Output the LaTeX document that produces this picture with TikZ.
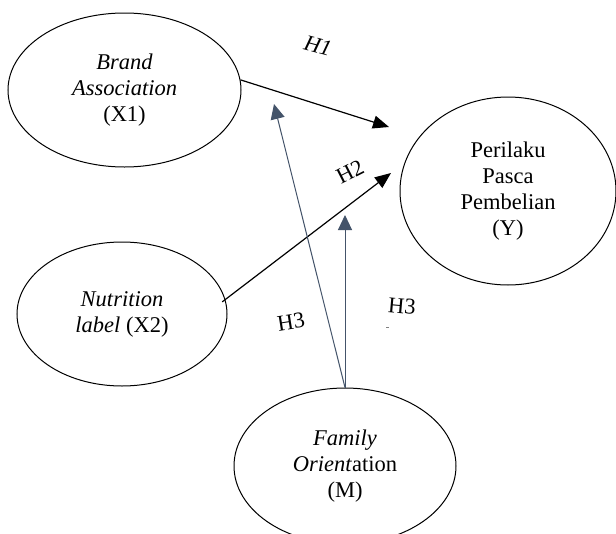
\documentclass[tikz,border=0pt]{standalone}
\usepackage{fontspec}
\setmainfont{Liberation Serif}
\usetikzlibrary{arrows.meta,shapes.geometric}
\definecolor{bluegray}{HTML}{44546A}
\begin{document}
\begin{tikzpicture}[x=1pt,y=-1pt,
 latent/.style={draw=black, line width=1pt, ellipse, inner sep=0pt, align=center, font=\fontsize{22.5}{26}\selectfont},
 blackarrow/.style={draw=black, line width=1.2pt, -{Triangle[length=16pt,width=13pt]}},
 bluearrow/.style={draw=bluegray, line width=1pt, -{Triangle[length=15pt,width=14pt]}},
 hlabel/.style={font=\fontsize{22.5}{26}\selectfont, inner sep=0pt}]
\useasboundingbox (0,0) rectangle (616,533);
\fill[white] (0,0) rectangle (616,533);
% latent variables
\node[latent, minimum width=233pt, minimum height=154pt] (x1) at (124.5,90) {\textit{Brand}\\\textit{Association}\\(X1)};
\node[latent, minimum width=210pt, minimum height=144pt] (x2) at (122,314) {\textit{Nutrition}\\\textit{label} (X2)};
\node[latent, minimum width=216pt, minimum height=188pt] (y) at (508,191) {Perilaku\\Pasca\\Pembelian\\(Y)};
\node[latent, minimum width=222pt, minimum height=156pt] (m) at (345,466) {\textit{Family}\\\textit{Orient}ation\\(M)};
% free ends of connectors
\coordinate (h1e) at (389,127);
\coordinate (h2e) at (391,173);
\coordinate (h3ae) at (274,104);
\coordinate (h3be) at (345,215);
% connectors
\draw[blackarrow] (x1.5) -- (h1e);
\draw[blackarrow, shorten <=-4pt] (x2.8) -- (h2e);
\draw[bluearrow] (m.north) -- (h3ae);
\draw[bluearrow] (m.north) -- (h3be);
% labels
\node[hlabel, rotate=-15] (lh1) at (318,46) {\textit{H1}};
\node[hlabel, rotate=27] (lh2) at (350,172) {H2};
\node[hlabel, rotate=9] (lh3a) at (291,322) {H3};
\node[hlabel, rotate=-5] (lh3b) at (402,306) {H3};
\draw[gray, line width=0.6pt] (386,327) -- (389,327);
\end{tikzpicture}
\end{document}
